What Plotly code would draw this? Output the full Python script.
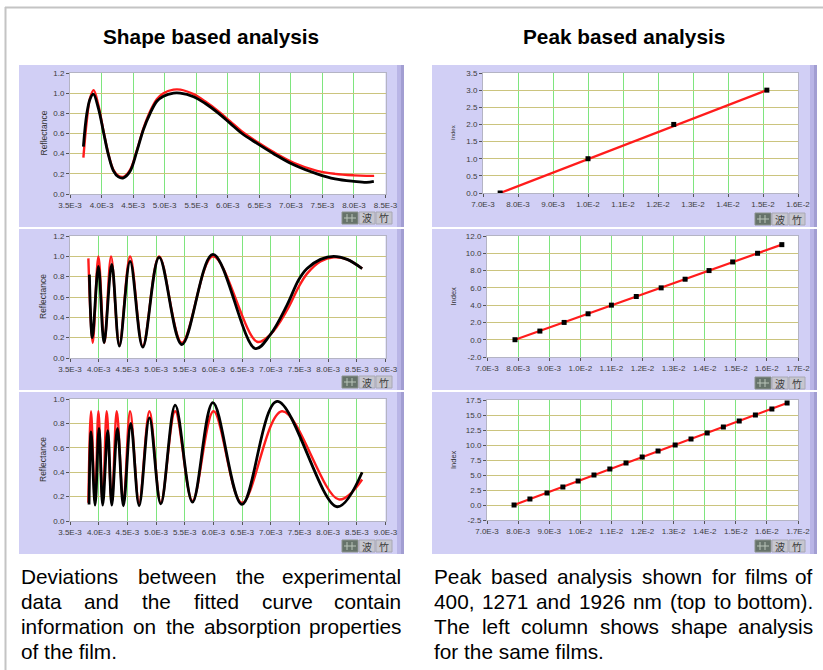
import plotly.graph_objects as go

W, H = 823, 670
FONT = "Liberation Sans, Arial, sans-serif"


def fx(px):
    return px / W


def fy(py):
    return 1 - py / H


# ---------------- data (wavenumber in units of 1E-3) ----------------
# Shape based analysis, film 1 (400 nm)
l1_black_x = [3.712, 3.765, 3.817, 3.870, 3.950, 4.029, 4.108, 4.188, 4.267, 4.347, 4.452,
              4.558, 4.664, 4.770, 4.876, 4.981, 5.140, 5.246, 5.458, 5.640, 5.855, 6.040,
              6.225, 6.470, 6.727, 7.045, 7.415, 7.700, 8.000, 8.200, 8.315]
l1_black_y = [0.47, 0.79, 0.94, 0.99, 0.85, 0.62, 0.39, 0.23, 0.17, 0.16, 0.225,
              0.42, 0.64, 0.80, 0.92, 0.97, 1.00, 1.00, 0.965, 0.90, 0.80, 0.70,
              0.60, 0.50, 0.40, 0.29, 0.20, 0.15, 0.125, 0.115, 0.125]
l1_red_x = [3.712, 3.765, 3.817, 3.875, 3.950, 4.029, 4.108, 4.188, 4.267, 4.347, 4.452,
            4.558, 4.664, 4.770, 4.876, 4.981, 5.140, 5.250, 5.458, 5.640, 5.855, 6.040,
            6.225, 6.470, 6.727, 7.045, 7.415, 7.700, 8.000, 8.200, 8.320]
l1_red_y = [0.36, 0.72, 0.95, 1.03, 0.88, 0.63, 0.40, 0.24, 0.18, 0.17, 0.24,
            0.43, 0.65, 0.82, 0.94, 1.00, 1.035, 1.035, 0.99, 0.92, 0.82, 0.72,
            0.62, 0.515, 0.415, 0.31, 0.23, 0.20, 0.185, 0.18, 0.18]

# film 2 (1271 nm)
l2_black_x = [3.838, 3.890, 3.995, 4.094, 4.228, 4.361, 4.548, 4.769, 5.054, 5.450,
              5.991, 6.730, 6.992, 7.283, 7.487, 7.633, 7.866, 8.098, 8.331, 8.593]
l2_black_y = [0.82, 0.20, 0.90, 0.15, 0.92, 0.117, 0.95, 0.107, 0.99, 0.133,
              1.02, 0.093, 0.23, 0.52, 0.77, 0.88, 0.97, 1.00, 0.97, 0.88]
l2_red_x = [3.820, 3.896, 3.995, 4.100, 4.216, 4.361, 4.548, 4.769, 5.054, 5.450,
            5.991, 6.760, 6.992, 7.283, 7.487, 7.633, 7.866, 8.098, 8.331, 8.593]
l2_red_y = [0.98, 0.15, 1.00, 0.15, 1.00, 0.13, 1.00, 0.117, 1.00, 0.15,
            1.00, 0.16, 0.23, 0.47, 0.70, 0.83, 0.95, 0.99, 0.97, 0.88]

# film 3 (1926 nm)
l3_black_x = [3.832, 3.867, 3.937, 4.006, 4.070, 4.158, 4.228, 4.327, 4.431, 4.559,
              4.705, 4.885, 5.083, 5.334, 5.636, 5.991, 6.498, 7.109, 8.157, 8.593]
l3_black_y = [0.136, 0.73, 0.13, 0.76, 0.13, 0.74, 0.13, 0.76, 0.125, 0.80,
              0.125, 0.845, 0.14, 0.95, 0.155, 0.97, 0.136, 0.98, 0.117, 0.40]
l3_red_x = [3.820, 3.867, 3.937, 3.995, 4.070, 4.140, 4.228, 4.315, 4.431, 4.548,
            4.705, 4.885, 5.083, 5.334, 5.636, 6.003, 6.498, 7.196, 8.186, 8.593]
l3_red_y = [0.15, 0.90, 0.15, 0.90, 0.15, 0.90, 0.15, 0.90, 0.15, 0.90,
            0.15, 0.90, 0.15, 0.90, 0.165, 0.90, 0.15, 0.90, 0.177, 0.34]

# Peak based analysis: peak position vs. peak index
r1_x = [7.49, 10.00, 12.45, 15.11]
r1_idx = [0, 1, 2, 3]
r1_fit_x = [7.49, 15.11]
r1_fit_y = [0.0, 3.0]

r2_x = [7.90, 8.70, 9.48, 10.25, 11.00, 11.80, 12.60, 13.37, 14.14, 14.90, 15.70, 16.48]
r2_idx = [0, 1, 2, 3, 4, 5, 6, 7, 8, 9, 10, 11]
r2_fit_x = [7.90, 16.48]
r2_fit_y = [0.0, 11.0]

r3_x = [7.87, 8.38, 8.93, 9.44, 9.93, 10.44, 10.95, 11.47, 11.99, 12.50, 13.05,
        13.56, 14.08, 14.60, 15.11, 15.63, 16.16, 16.65]
r3_idx = [0, 1, 2, 3, 4, 5, 6, 7, 8, 9, 10, 11, 12, 13, 14, 15, 16, 17]
r3_fit_x = [7.87, 16.65]
r3_fit_y = [0.0, 17.0]

# tick labels
l1_xticks = [3.5, 4.0, 4.5, 5.0, 5.5, 6.0, 6.5, 7.0, 7.5, 8.0, 8.5]
l1_xlabels = ["3.5E-3", "4.0E-3", "4.5E-3", "5.0E-3", "5.5E-3", "6.0E-3",
              "6.5E-3", "7.0E-3", "7.5E-3", "8.0E-3", "8.5E-3"]
l23_xticks = [3.5, 4.0, 4.5, 5.0, 5.5, 6.0, 6.5, 7.0, 7.5, 8.0, 8.5, 9.0]
l23_xlabels = ["3.5E-3", "4.0E-3", "4.5E-3", "5.0E-3", "5.5E-3", "6.0E-3",
               "6.5E-3", "7.0E-3", "7.5E-3", "8.0E-3", "8.5E-3", "9.0E-3"]
l12_yticks = [0.0, 0.2, 0.4, 0.6, 0.8, 1.0, 1.2]
l12_ylabels = ["0.0", "0.2", "0.4", "0.6", "0.8", "1.0", "1.2"]
l3_yticks = [0.0, 0.2, 0.4, 0.6, 0.8, 1.0]
l3_ylabels = ["0.0", "0.2", "0.4", "0.6", "0.8", "1.0"]

r1_xticks = [7, 8, 9, 10, 11, 12, 13, 14, 15, 16]
r1_xlabels = ["7.0E-3", "8.0E-3", "9.0E-3", "1.0E-2", "1.1E-2", "1.2E-2",
              "1.3E-2", "1.4E-2", "1.5E-2", "1.6E-2"]
r23_xticks = [7, 8, 9, 10, 11, 12, 13, 14, 15, 16, 17]
r23_xlabels = ["7.0E-3", "8.0E-3", "9.0E-3", "1.0E-2", "1.1E-2", "1.2E-2",
               "1.3E-2", "1.4E-2", "1.5E-2", "1.6E-2", "1.7E-2"]
r1_yticks = [0.0, 0.5, 1.0, 1.5, 2.0, 2.5, 3.0, 3.5]
r1_ylabels = ["0.0", "0.5", "1.0", "1.5", "2.0", "2.5", "3.0", "3.5"]
r2_yticks = [-2, 0, 2, 4, 6, 8, 10, 12]
r2_ylabels = ["-2.0", "0.0", "2.0", "4.0", "6.0", "8.0", "10.0", "12.0"]
r3_yticks = [-2.5, 0, 2.5, 5, 7.5, 10, 12.5, 15, 17.5]
r3_ylabels = ["-2.5", "0.0", "2.5", "5.0", "7.5", "10.0", "12.5", "15.0", "17.5"]

# captions
left_caption = ["Deviations between the experimental",
                "data and the fitted curve contain",
                "information on the absorption properties",
                "of the film."]
right_caption = ["Peak based analysis shown for films of",
                 "400, 1271 and 1926 nm (top to bottom).",
                 "The left column shows shape analysis",
                 "for the same films."]

# ---------------- layout geometry (pixels) ----------------
panels = [
    dict(pa=(70, 385.5, 73, 194), pb=(19, 404, 65, 227), xr=(3.5, 8.5), yr=(0, 1.2),
         xt=(l1_xticks, l1_xlabels), yt=(l12_yticks, l12_ylabels), title="Reflectance", tsize=8.5,
         btn=(342, 212)),
    dict(pa=(70, 385.5, 236, 358), pb=(19, 404, 229, 390), xr=(3.5, 9.0), yr=(0, 1.2),
         xt=(l23_xticks, l23_xlabels), yt=(l12_yticks, l12_ylabels), title="Reflectance", tsize=8.5,
         btn=(342, 376)),
    dict(pa=(70, 385.5, 399, 521), pb=(19, 404, 392, 554), xr=(3.5, 9.0), yr=(0, 1.0),
         xt=(l23_xticks, l23_xlabels), yt=(l3_yticks, l3_ylabels), title="Reflectance", tsize=8.5,
         btn=(342, 540)),
    dict(pa=(483, 798, 73, 193), pb=(432, 817, 65, 227), xr=(7, 16), yr=(0, 3.5),
         xt=(r1_xticks, r1_xlabels), yt=(r1_yticks, r1_ylabels), title="Index", tsize=6,
         btn=(755, 213)),
    dict(pa=(487, 798, 236, 357), pb=(432, 817, 229, 390), xr=(7, 17), yr=(-2, 12),
         xt=(r23_xticks, r23_xlabels), yt=(r2_yticks, r2_ylabels), title="Index", tsize=7.5,
         btn=(755, 377)),
    dict(pa=(487, 798, 400, 520), pb=(432, 817, 392, 554), xr=(7, 17), yr=(-2.5, 17.5),
         xt=(r23_xticks, r23_xlabels), yt=(r3_yticks, r3_ylabels), title="Index", tsize=7.5,
         btn=(755, 540)),
]

RED = "#ff1c1c"
fig = go.Figure()

left_series = [(l1_black_x, l1_black_y, l1_red_x, l1_red_y),
               (l2_black_x, l2_black_y, l2_red_x, l2_red_y),
               (l3_black_x, l3_black_y, l3_red_x, l3_red_y)]
for i, (bx, by, rx, ry) in enumerate(left_series, start=1):
    fig.add_trace(go.Scatter(x=rx, y=ry, mode="lines", xaxis=f"x{i}", yaxis=f"y{i}",
                             line=dict(color=RED, width=2.4, shape="spline", smoothing=1.0),
                             hoverinfo="skip"))
    fig.add_trace(go.Scatter(x=bx, y=by, mode="lines", xaxis=f"x{i}", yaxis=f"y{i}",
                             line=dict(color="#000000", width=2.8, shape="spline", smoothing=1.0),
                             hoverinfo="skip"))

right_series = [(r1_x, r1_idx, r1_fit_x, r1_fit_y),
                (r2_x, r2_idx, r2_fit_x, r2_fit_y),
                (r3_x, r3_idx, r3_fit_x, r3_fit_y)]
for j, (px_, py_, fx_, fy_) in enumerate(right_series, start=4):
    fig.add_trace(go.Scatter(x=fx_, y=fy_, mode="lines", xaxis=f"x{j}", yaxis=f"y{j}",
                             line=dict(color=RED, width=2.2), hoverinfo="skip"))
    fig.add_trace(go.Scatter(x=px_, y=py_, mode="markers", xaxis=f"x{j}", yaxis=f"y{j}",
                             marker=dict(color="#000000", size=5, symbol="square"),
                             hoverinfo="skip"))

shapes = []
annotations = []
layout_axes = {}

# outer frame
shapes.append(dict(type="line", xref="paper", yref="paper", x0=fx(5), x1=1, y0=fy(7.5), y1=fy(7.5),
                   line=dict(color="#c4c4c4", width=2), layer="below"))
shapes.append(dict(type="line", xref="paper", yref="paper", x0=fx(5.5), x1=fx(5.5), y0=fy(7), y1=0,
                   line=dict(color="#c4c4c4", width=2), layer="below"))

for k, p in enumerate(panels, start=1):
    x0, x1, y0, y1 = p["pa"]
    bx0, bx1, by0, by1 = p["pb"]
    shapes.append(dict(type="rect", xref="paper", yref="paper", x0=fx(bx0), x1=fx(bx1),
                       y0=fy(by1), y1=fy(by0), fillcolor="#d1cff5", line=dict(width=0), layer="below"))
    shapes.append(dict(type="rect", xref="paper", yref="paper", x0=fx(bx1 - 7), x1=fx(bx1),
                       y0=fy(by1), y1=fy(by0), fillcolor="#b9b5e6", line=dict(width=0), layer="below"))
    shapes.append(dict(type="rect", xref="paper", yref="paper", x0=fx(bx1 - 3), x1=fx(bx1),
                       y0=fy(by1), y1=fy(by0), fillcolor="#a29ed2", line=dict(width=0), layer="below"))
    shapes.append(dict(type="rect", xref="paper", yref="paper", x0=fx(x0), x1=fx(x1),
                       y0=fy(y1), y1=fy(y0), fillcolor="#ffffff", line=dict(width=0), layer="below"))
    # palette buttons
    bxp, byp = p["btn"]
    shapes.append(dict(type="rect", xref="paper", yref="paper", x0=fx(bxp), x1=fx(bxp + 16),
                       y0=fy(byp + 12), y1=fy(byp), fillcolor="#66736a",
                       line=dict(color="#8a928c", width=1)))
    for gx in (5, 10):
        shapes.append(dict(type="line", xref="paper", yref="paper", x0=fx(bxp + gx), x1=fx(bxp + gx),
                           y0=fy(byp + 10), y1=fy(byp + 2), line=dict(color="#b8c4b8", width=1)))
    shapes.append(dict(type="line", xref="paper", yref="paper", x0=fx(bxp + 2), x1=fx(bxp + 14),
                       y0=fy(byp + 6), y1=fy(byp + 6), line=dict(color="#b8c4b8", width=1)))
    for b in (1, 2):
        ox = bxp + 17 * b
        shapes.append(dict(type="rect", xref="paper", yref="paper", x0=fx(ox), x1=fx(ox + 16),
                           y0=fy(byp + 12), y1=fy(byp), fillcolor="#c6c6cf",
                           line=dict(color="#a8a8b4", width=1)))
    annotations.append(dict(x=fx(bxp + 25), y=fy(byp + 6), xref="paper", yref="paper",
                            text="波", showarrow=False, font=dict(size=10, color="#3a3a3a",
                                                                  family="Noto Sans CJK SC"),
                            xanchor="center", yanchor="middle"))
    annotations.append(dict(x=fx(bxp + 42), y=fy(byp + 6), xref="paper", yref="paper",
                            text="竹", showarrow=False, font=dict(size=10, color="#3a3a3a",
                                                                  family="Noto Sans CJK SC"),
                            xanchor="center", yanchor="middle"))

    common = dict(showgrid=True, gridwidth=1, zeroline=False, showline=True, linecolor="#b4b4c4",
                  linewidth=1, mirror=True, ticks="outside", ticklen=3, tickcolor="#555555",
                  tickfont=dict(size=8, color="#3c3c3c", family=FONT), fixedrange=True,
                  tickmode="array", tickangle=0, automargin=False)
    layout_axes[f"xaxis{k}"] = dict(common, domain=[fx(x0), fx(x1)], range=list(p["xr"]),
                                    tickvals=p["xt"][0], ticktext=p["xt"][1],
                                    gridcolor="#7ee57e", anchor=f"y{k}")
    layout_axes[f"yaxis{k}"] = dict(common, domain=[fy(y1), fy(y0)], range=list(p["yr"]),
                                    tickvals=p["yt"][0], ticktext=p["yt"][1],
                                    gridcolor="#cbc47e", anchor=f"x{k}")
    tx = 43 if k <= 3 else 453
    annotations.append(dict(x=fx(tx), y=fy((y0 + y1) / 2), xref="paper", yref="paper",
                            text=p["title"], showarrow=False, textangle=-90,
                            font=dict(size=p["tsize"], color="#333333", family=FONT),
                            xanchor="center", yanchor="middle"))

annotations.append(dict(x=fx(211.5), y=fy(37), xref="paper", yref="paper",
                        text="<b>Shape based analysis</b>", showarrow=False,
                        font=dict(size=20.8, color="#000000", family=FONT),
                        xanchor="center", yanchor="middle"))
annotations.append(dict(x=fx(624), y=fy(37), xref="paper", yref="paper",
                        text="<b>Peak based analysis</b>", showarrow=False,
                        font=dict(size=20.8, color="#000000", family=FONT),
                        xanchor="center", yanchor="middle"))

# justified caption text: word widths from Arial/Liberation Sans metrics (1/1000 em)
ARIAL = {" ": 278, ",": 278, ".": 278, "(": 333, ")": 333}
ARIAL.update({d: 556 for d in "0123456789"})
ARIAL.update(dict(zip("abcdefghijklmnopqrstuvwxyz",
                      [556, 556, 500, 556, 556, 278, 556, 556, 222, 222, 500, 222, 833,
                       556, 556, 556, 556, 333, 500, 278, 556, 500, 722, 500, 500, 500])))
ARIAL.update({"D": 722, "P": 667, "T": 611})
CAP_SIZE = 20.8


def text_width(s):
    return sum(ARIAL.get(c, 556) for c in s) * CAP_SIZE / 1000.0


line_y = [576.7, 601.7, 626.7, 651.5]
for lines, xl, xr in ((left_caption, 20, 402), (right_caption, 433, 814)):
    for li, line in enumerate(lines):
        words = line.split(" ")
        justify = li < len(lines) - 1 and len(words) > 1
        if justify:
            total = sum(text_width(w) for w in words)
            gap = (xr - xl - total) / (len(words) - 1)
            xpos = xl
            for wi, w in enumerate(words):
                last = wi == len(words) - 1
                annotations.append(dict(x=fx(xr if last else xpos), y=fy(line_y[li]),
                                        xref="paper", yref="paper", text=w, showarrow=False,
                                        borderpad=0,
                                        font=dict(size=CAP_SIZE, color="#000000", family=FONT),
                                        xanchor="right" if last else "left", yanchor="middle"))
                xpos += text_width(w) + gap
        else:
            annotations.append(dict(x=fx(xl), y=fy(line_y[li]), xref="paper", yref="paper",
                                    text=line, showarrow=False, borderpad=0,
                                    font=dict(size=CAP_SIZE, color="#000000", family=FONT),
                                    xanchor="left", yanchor="middle"))

fig.update_layout(width=W, height=H, margin=dict(l=0, r=0, t=0, b=0, pad=0, autoexpand=False),
                  paper_bgcolor="#ffffff", plot_bgcolor="rgba(0,0,0,0)",
                  showlegend=False, shapes=shapes, annotations=annotations, **layout_axes)

fig.write_html("out.html", config={"displayModeBar": False},
               post_script="document.body.style.margin='0px';document.body.style.overflow='hidden';")
